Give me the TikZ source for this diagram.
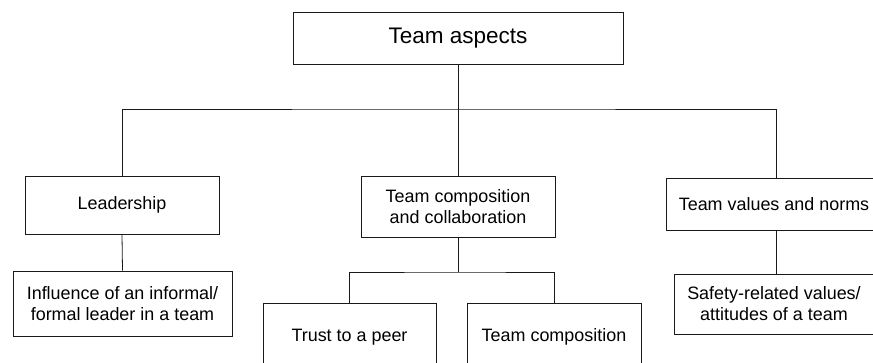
\documentclass[tikz,border=0pt]{standalone}
\usepackage{fontspec}
\setmainfont{Liberation Sans}
\usetikzlibrary{positioning}
\definecolor{lineGrey}{HTML}{1A1A1A}

\begin{document}
\begin{tikzpicture}[x=1bp, y=-1bp,
    aspect/.style={draw=lineGrey, line width=0.8bp, align=center, inner sep=0pt,
      font=\fontsize{18}{21}\selectfont},
    link/.style={draw=lineGrey, line width=0.8bp}]
  \useasboundingbox (0,0) rectangle (873,362);
  \clip (0,0) rectangle (873,362);

  % top level
  \node[aspect, minimum width=330bp, minimum height=52bp,
        font=\fontsize{22.6}{26}\selectfont] (team) at (458,38) {Team aspects};

  % second level
  \node[aspect, minimum width=194bp, minimum height=58bp] (lead) at (122,205) {Leadership};
  \node[aspect, minimum width=194bp, minimum height=61bp] (comp) at (458,206.5)
    {Team composition\\and collaboration};
  \node[aspect, minimum width=230bp, minimum height=52bp] (vals) at (781,204)
    {Team values and norms\hspace*{14bp}};

  % third level
  \node[aspect, minimum width=219bp, minimum height=65bp] (infl) at (122.5,303.5)
    {Influence of an informal/\\formal leader in a team};
  \node[aspect, minimum width=173bp, minimum height=68bp] (trust) at (349.5,337) {Trust to a peer};
  \node[aspect, minimum width=174bp, minimum height=68bp] (tcomp) at (554,337) {Team composition};
  \node[aspect, minimum width=214bp, minimum height=60bp] (safe) at (781,304)
    {Safety-related values/\hspace*{14bp}\\attitudes of a team\hspace*{14bp}};

  \coordinate (j1) at (458,109);
  \coordinate (j2) at (458,272);

  \draw[link] (team.south) -- (comp.north);
  \draw[link] (lead.north) |- (j1) -| ([xshift=-5bp]vals.north);
  \draw[link] (lead.south) -- (infl.north);
  \draw[link] (comp.south) -- (j2);
  \draw[link] (trust.north) |- (j2) -| (tcomp.north);
  \draw[link] ([xshift=-5bp]vals.south) -- ([xshift=-5bp]safe.north);
\end{tikzpicture}
\end{document}
